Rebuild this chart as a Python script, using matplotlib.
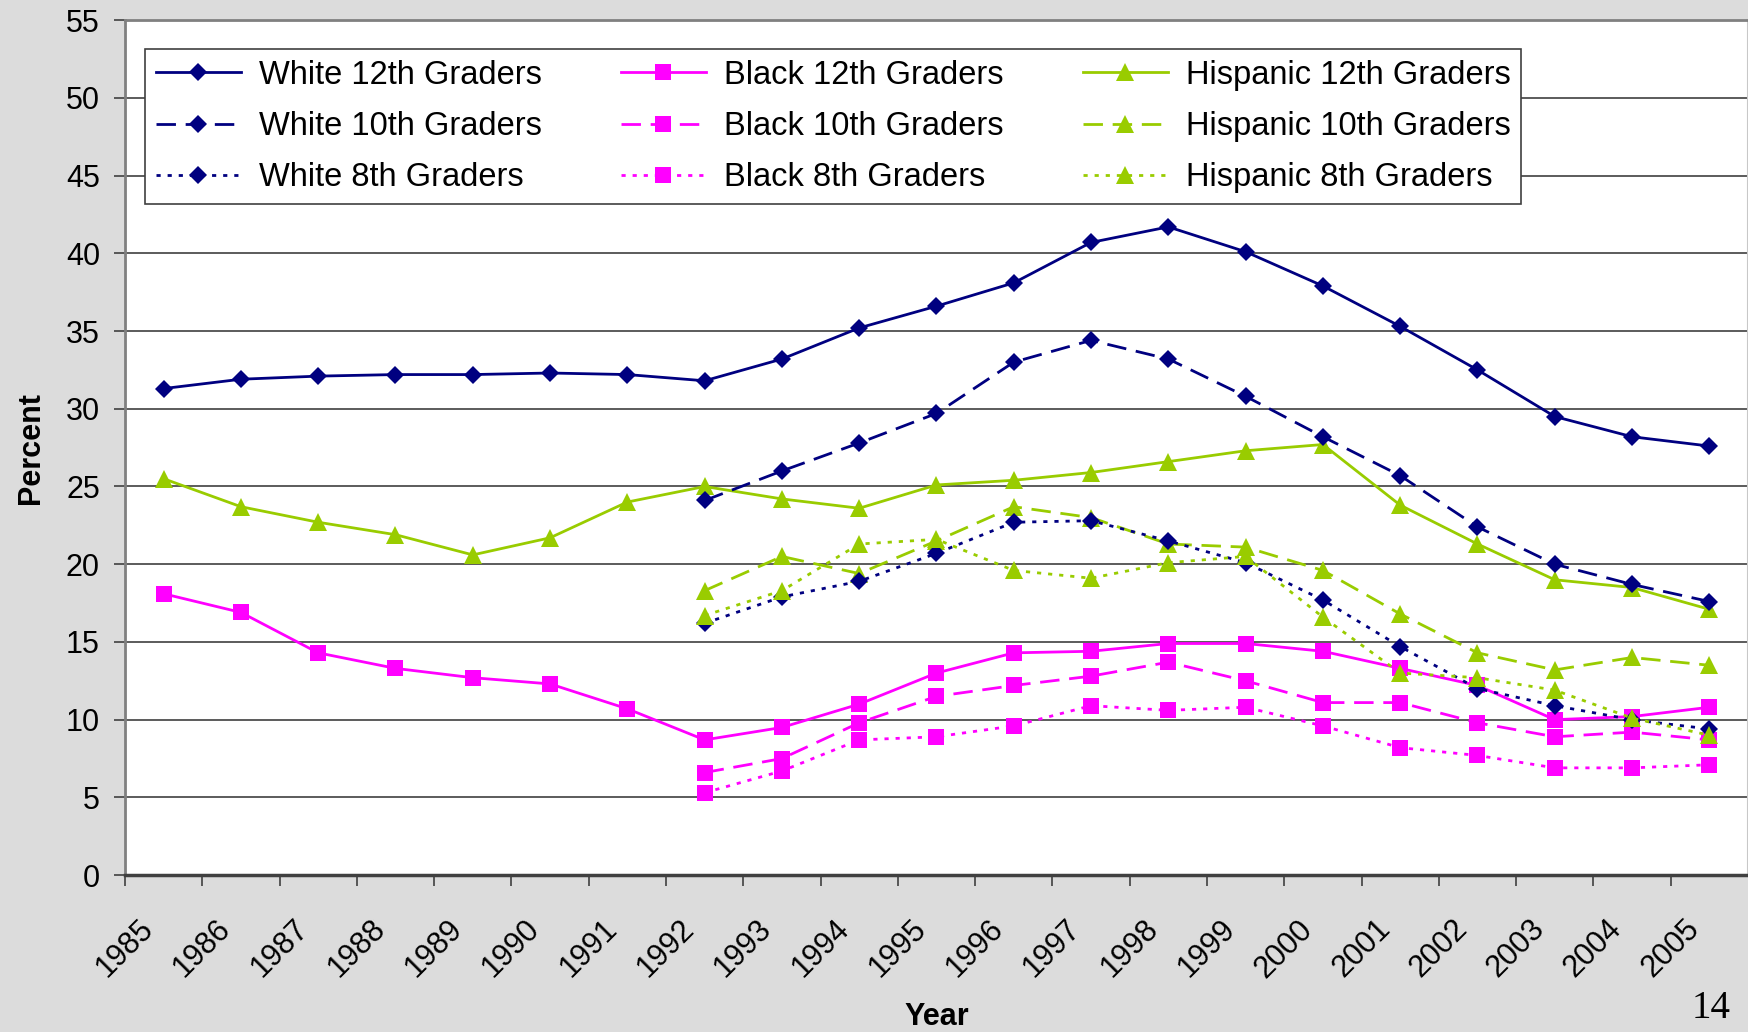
import matplotlib
matplotlib.use('Agg')
import matplotlib.pyplot as plt
import numpy as np

plt.rcParams['font.family'] = ['Liberation Sans', 'DejaVu Sans']

years = ['1985', '1986', '1987', '1988', '1989', '1990', '1991', '1992', '1993', '1994',
         '1995', '1996', '1997', '1998', '1999', '2000', '2001', '2002', '2003', '2004', '2005']
first_year_8_10 = '1992'

# 12th graders, 1985-2005
white_12 = [31.3, 31.9, 32.1, 32.2, 32.2, 32.3, 32.2, 31.8, 33.2, 35.2, 36.6,
            38.1, 40.7, 41.7, 40.1, 37.9, 35.3, 32.5, 29.5, 28.2, 27.6]
black_12 = [18.1, 16.9, 14.3, 13.3, 12.7, 12.3, 10.7, 8.7, 9.5, 11.0, 13.0,
            14.3, 14.4, 14.9, 14.9, 14.4, 13.3, 12.2, 10.0, 10.2, 10.8]
hisp_12 = [25.5, 23.7, 22.7, 21.9, 20.6, 21.7, 24.0, 25.0, 24.2, 23.6, 25.1,
           25.4, 25.9, 26.6, 27.3, 27.7, 23.8, 21.3, 19.0, 18.5, 17.1]

# 10th and 8th graders, 1992-2005
white_10 = [24.1, 26.0, 27.8, 29.7, 33.0, 34.4, 33.2, 30.8, 28.2, 25.7, 22.4, 20.0, 18.7, 17.6]
black_10 = [6.6, 7.5, 9.8, 11.5, 12.2, 12.8, 13.7, 12.5, 11.1, 11.1, 9.8, 8.9, 9.2, 8.7]
hisp_10 = [18.3, 20.5, 19.4, 21.5, 23.7, 23.0, 21.3, 21.1, 19.6, 16.8, 14.3, 13.2, 14.0, 13.5]
white_8 = [16.2, 17.9, 18.9, 20.7, 22.7, 22.8, 21.5, 20.1, 17.7, 14.7, 12.0, 10.9, 10.0, 9.4]
black_8 = [5.3, 6.7, 8.7, 8.9, 9.6, 10.9, 10.6, 10.8, 9.6, 8.2, 7.7, 6.9, 6.9, 7.1]
hisp_8 = [16.7, 18.3, 21.3, 21.6, 19.6, 19.1, 20.1, 20.5, 16.6, 13.0, 12.7, 11.9, 10.1, 9.0]

navy = '#000080'
magenta = '#ff00ff'
green = '#99cc00'

x_all = np.arange(len(years)) + 0.5
x_late = x_all[years.index(first_year_8_10):]

fig = plt.figure(figsize=(17.48, 10.32), dpi=100, facecolor='#dcdcdc')
ax = fig.add_axes([0.0715, 0.152, 0.9285, 0.8285])
ax.set_facecolor('white')

solid = '-'
dashed = (0, (7, 3.5))
dotted = (0, (1.5, 2.5))

series = [
    ('White 12th Graders', x_all, white_12, navy, 'D', 9, solid),
    ('Black 12th Graders', x_all, black_12, magenta, 's', 12, solid),
    ('Hispanic 12th Graders', x_all, hisp_12, green, '^', 13, solid),
    ('White 10th Graders', x_late, white_10, navy, 'D', 9, dashed),
    ('Black 10th Graders', x_late, black_10, magenta, 's', 12, dashed),
    ('Hispanic 10th Graders', x_late, hisp_10, green, '^', 13, dashed),
    ('White 8th Graders', x_late, white_8, navy, 'D', 9, dotted),
    ('Black 8th Graders', x_late, black_8, magenta, 's', 12, dotted),
    ('Hispanic 8th Graders', x_late, hisp_8, green, '^', 13, dotted),
]

lines = {}
for label, xs, ys, color, marker, ms, ls in series:
    line, = ax.plot(xs, ys, color=color, linestyle=ls, linewidth=2,
                    marker=marker, markersize=ms, markeredgewidth=0,
                    label=label, zorder=3)
    lines[label] = line

ax.set_xlim(0, len(years))
ax.set_ylim(0, 55)
ax.set_yticks(np.arange(0, 56, 5))
ax.set_xticks(np.arange(len(years)))
ax.set_xticklabels(years, rotation=45, ha='center', fontsize=22)
ax.tick_params(axis='y', labelsize=22, length=8, width=1.2, pad=10, color='#404040')
ax.tick_params(axis='x', length=8, width=1.2, pad=20, color='#404040')

ax.yaxis.grid(True, color='#404040', linewidth=1.2)
ax.set_axisbelow(True)

ax.spines['left'].set_color('#808080')
ax.spines['left'].set_linewidth(2)
ax.spines['top'].set_color('#808080')
ax.spines['top'].set_linewidth(2)
ax.spines['right'].set_color('#c8c8c8')
ax.spines['right'].set_linewidth(1.5)
ax.spines['bottom'].set_color('#404040')
ax.spines['bottom'].set_linewidth(2.5)

ax.set_ylabel('Percent', fontsize=22, fontweight='bold', labelpad=14)
ax.set_xlabel('Year', fontsize=22, fontweight='bold', labelpad=13)

order = ['White 12th Graders', 'White 10th Graders', 'White 8th Graders',
         'Black 12th Graders', 'Black 10th Graders', 'Black 8th Graders',
         'Hispanic 12th Graders', 'Hispanic 10th Graders', 'Hispanic 8th Graders']
leg = ax.legend([lines[k] for k in order], order, ncol=3, loc='lower left',
                bbox_to_anchor=(0.0123, 0.785, 0.848, 0.183), mode='expand',
                borderaxespad=0, fontsize=23.5, frameon=True, fancybox=False,
                edgecolor='#404040', framealpha=1, handlelength=2.6,
                labelspacing=0.62, borderpad=0.33, handletextpad=0.55,
                columnspacing=1.0)
leg.get_frame().set_linewidth(1.2)

fig.text(0.979, 0.005, '14', fontsize=28, family='Liberation Serif', ha='center', va='bottom')

fig.savefig('out.png', dpi=100, facecolor=fig.get_facecolor())
